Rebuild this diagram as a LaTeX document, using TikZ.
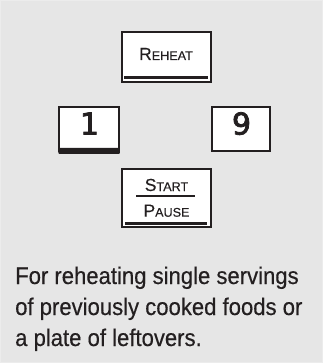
\documentclass[tikz,border=0pt]{standalone}
\usepackage{fontspec}
\usetikzlibrary{calc}
\setmainfont{Liberation Sans}
\newfontfamily\keyfont[FakeBold=0.3]{Liberation Sans}
\newfontfamily\digitfont[FakeBold=2.6]{DejaVu Sans}
\newfontfamily\parafont[FakeStretch=0.92,FakeBold=0.4]{Liberation Sans}
\definecolor{bg}{HTML}{E6E6E6}
\definecolor{ink}{HTML}{231F20}
\newcommand\keycap[2]{{\fontsize{17.5}{18}\selectfont #1}{\fontsize{12.6}{13}\selectfont #2}}
\tikzset{
  keybox/.style={draw=ink, fill=white, line width=2pt, inner sep=0pt, outer sep=0pt, rectangle},
  keybar/.style={fill=ink},
  keylbl/.style={anchor=base, inner sep=0pt, text=ink, font=\keyfont},
  digitlbl/.style={anchor=base, inner sep=0pt, text=ink, font=\digitfont\fontsize{30}{31}\selectfont},
  paraline/.style={anchor=base west, inner sep=0pt, text=ink, font=\parafont\fontsize{24}{31}\selectfont}
}
\begin{document}
\begin{tikzpicture}[x=1pt,y=-1pt]
  \useasboundingbox (0,0) rectangle (323,363);
  \fill[bg] (0,0) rectangle (323,363);
  \draw[gray!15, line width=1pt] (0.5,0.5) rectangle (322.5,362.5);
  % Reheat key
  \node[keybox, minimum width=89pt, minimum height=50pt] (reheat) at (166,57.5) {};
  \fill[keybar] ($(reheat.south west)+(2.5,-6.2)$) rectangle ($(reheat.south east)+(-3,-3)$);
  \node[keylbl] (reheatlbl) at (166,60) {\keycap{R}{EHEAT}};
  % 1 key
  \node[keybox, minimum width=59.5pt, minimum height=44pt] (one) at (89.2,129) {};
  \fill[keybar, rounded corners=1pt] ($(one.south west)+(-1,-3.2)$) rectangle ($(one.south east)+(1,3)$);
  \node[digitlbl] (onelbl) at (89.5,134.5) {1};
  % 9 key
  \node[keybox, minimum width=58.5pt, minimum height=44pt] (nine) at (241,129) {};
  \node[digitlbl] (ninelbl) at (241.5,134.5) {9};
  % Start/Pause key
  \node[keybox, minimum width=89pt, minimum height=58pt] (start) at (166.3,198) {};
  \fill[keybar] ($(start.south west)+(3.5,-5)$) rectangle ($(start.south east)+(-3.5,-1.8)$);
  \node[keylbl] (startlbl) at (166.5,191) {\keycap{S}{TART}};
  \node[keylbl] (pauselbl) at (166.5,216.7) {\keycap{P}{AUSE}};
  \coordinate (divl) at (136,196);
  \coordinate (divr) at (195,196);
  \draw[ink, line width=1.8pt] (divl) -- (divr);
  % paragraph
  \node[paraline] (p1) at (15,284) {For reheating single servings};
  \node[paraline] (p2) at (15,315) {of previously cooked foods or};
  \node[paraline] (p3) at (15,346) {a plate of leftovers.};
\end{tikzpicture}
\end{document}
